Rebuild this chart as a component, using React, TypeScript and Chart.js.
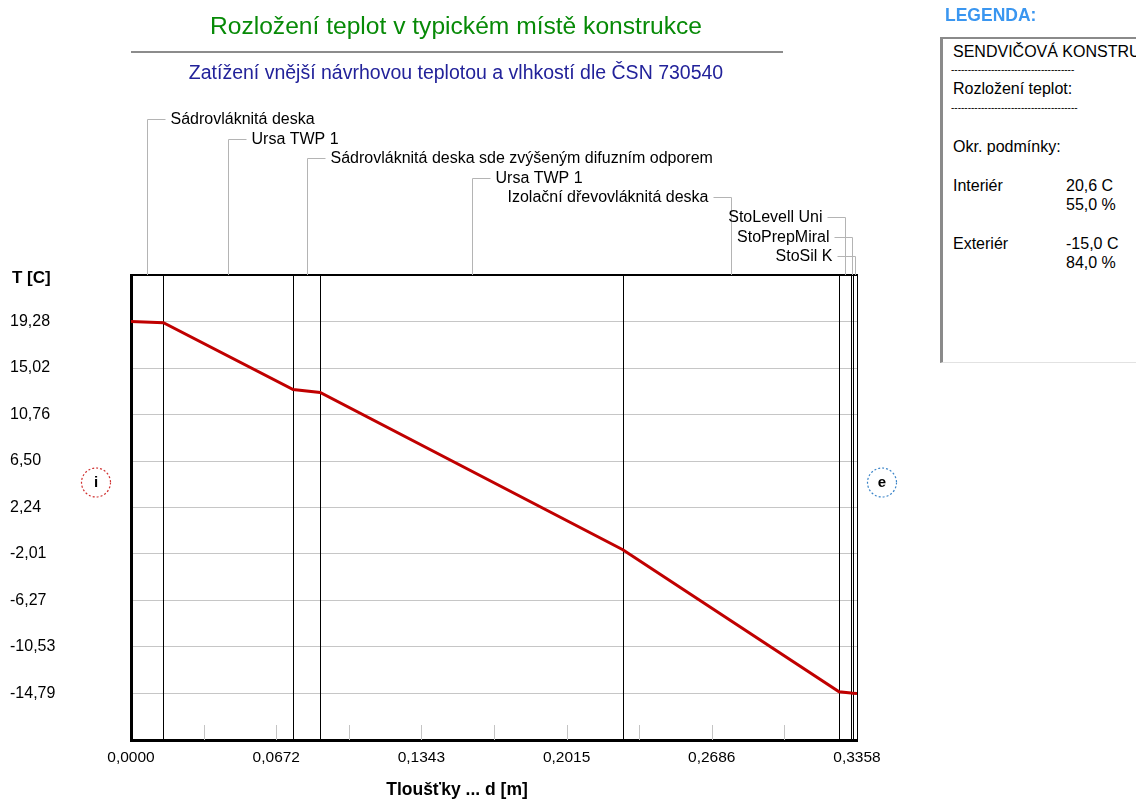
import React, { useEffect, useRef } from "react";
import { Chart, registerables } from "chart.js";

Chart.register(...registerables);

// ---------- data ----------
const layerNames = [
  "Sádrovláknitá deska",
  "Ursa TWP 1",
  "Sádrovláknitá deska sde zvýšeným difuzním odporem",
  "Ursa TWP 1",
  "Izolační dřevovláknitá deska",
  "StoLevell Uni",
  "StoPrepMiral",
  "StoSil K",
];
const layerThickness = [0.015, 0.06, 0.0125, 0.14, 0.1, 0.0055, 0.0008, 0.002];
// temperature at each layer interface (interior surface ... exterior surface)
const boundaryTemps = [19.28, 19.17, 13.05, 12.78, -1.62, -14.63, -14.75, -14.76, -14.79];

const yTickValues = [19.28, 15.02, 10.76, 6.5, 2.24, -2.01, -6.27, -10.53, -14.79];
const yTickLabels = ["19,28", "15,02", "10,76", "6,50", "2,24", "-2,01", "-6,27", "-10,53", "-14,79"];
const yMin = -19.05;
const yMax = 23.54;

const xTickValues = [0, 0.0672, 0.1343, 0.2015, 0.2686, 0.3358];
const xTickLabels = ["0,0000", "0,0672", "0,1343", "0,2015", "0,2686", "0,3358"];
const xMinorTicks = [0.0336, 0.0672, 0.1007, 0.1343, 0.1679, 0.2015, 0.2351, 0.2686, 0.3022];
const xMax = 0.3358;

const chartTitle = "Rozložení teplot v typickém místě konstrukce";
const chartSubtitle = "Zatížení vnější návrhovou teplotou a vlhkostí dle ČSN 730540";
const yAxisTitle = "T [C]";
const xAxisTitle = "Tloušťky ... d [m]";

const legendHeading = "LEGENDA:";
const legendConstruction = "SENDVIČOVÁ KONSTRUKCE";
const legendSection = "Rozložení teplot:";
const legendConditions = "Okr. podmínky:";
const conditionNames = ["Interiér", "Exteriér"];
const conditionTemps = ["20,6 C", "-15,0 C"];
const conditionHumidity = ["55,0 %", "84,0 %"];

// ---------- derived ----------
const boundaries: number[] = [0];
layerThickness.forEach((t) => boundaries.push(boundaries[boundaries.length - 1] + t));
const profilePoints = boundaries.map((x, i) => ({ x, y: boundaryTemps[i] }));

const FONT = "'Liberation Sans', Arial, sans-serif";

const layerPlugin = {
  id: "layerPlugin",
  beforeDatasetsDraw(chart: any) {
    const { ctx, chartArea: ca, scales } = chart;
    const x = scales.x;
    ctx.save();
    // small ticks inside bottom of plot
    ctx.strokeStyle = "#c4c4c4";
    ctx.lineWidth = 1;
    xMinorTicks.forEach((v) => {
      const px = Math.round(x.getPixelForValue(v)) + 0.5;
      ctx.beginPath();
      ctx.moveTo(px, ca.bottom - 15);
      ctx.lineTo(px, ca.bottom);
      ctx.stroke();
    });
    // layer interfaces
    ctx.strokeStyle = "#000";
    ctx.lineWidth = 1;
    boundaries.slice(1).forEach((b) => {
      const px = Math.round(x.getPixelForValue(b)) + 0.5;
      ctx.beginPath();
      ctx.moveTo(px, ca.top);
      ctx.lineTo(px, ca.bottom);
      ctx.stroke();
    });
    // top border
    ctx.lineWidth = 2;
    ctx.beginPath();
    ctx.moveTo(ca.left, ca.top);
    ctx.lineTo(ca.right + 1, ca.top);
    ctx.stroke();
    ctx.restore();
  },
  afterDraw(chart: any) {
    const { ctx, chartArea: ca, scales } = chart;
    const x = scales.x;
    ctx.save();
    ctx.font = `16px ${FONT}`;
    ctx.textBaseline = "middle";
    layerNames.forEach((name, i) => {
      const center = boundaries[i] + layerThickness[i] / 2;
      const vx = Math.round(x.getPixelForValue(center)) + 0.5;
      const ly = Math.round(119 + i * 19.6) + 0.5;
      const w = ctx.measureText(name).width;
      const toRight = vx + 23 + w <= ca.right;
      ctx.strokeStyle = "#b4b4b4";
      ctx.lineWidth = 1;
      ctx.beginPath();
      ctx.moveTo(vx, ca.top);
      ctx.lineTo(vx, ly);
      ctx.lineTo(toRight ? vx + 18 : vx - 18, ly);
      ctx.stroke();
      ctx.fillStyle = "#000";
      ctx.textAlign = toRight ? "left" : "right";
      ctx.fillText(name, toRight ? vx + 23 : vx - 23, ly);
    });
    // interior / exterior markers
    const cy = (ca.top + ca.bottom) / 2 - 25;
    const marks = [
      { cx: ca.left - 35, color: "#d03030", t: "i" },
      { cx: ca.right + 25, color: "#3a84c8", t: "e" },
    ];
    marks.forEach((m) => {
      ctx.beginPath();
      ctx.setLineDash([2, 2]);
      ctx.strokeStyle = m.color;
      ctx.lineWidth = 1.2;
      ctx.arc(m.cx, cy, 14.5, 0, Math.PI * 2);
      ctx.stroke();
      ctx.setLineDash([]);
      ctx.fillStyle = "#000";
      ctx.font = `bold 15px ${FONT}`;
      ctx.textAlign = "center";
      ctx.textBaseline = "middle";
      ctx.fillText(m.t, m.cx, cy);
    });
    ctx.restore();
  },
};

function Txt(props: {
  x: number;
  y: number;
  size: number;
  bold?: boolean;
  color?: string;
  center?: boolean;
  children: React.ReactNode;
}) {
  const { x, y, size, bold, color, center, children } = props;
  return (
    <div
      style={{
        position: "absolute",
        left: x,
        top: y - 0.5 * size,
        fontSize: size,
        lineHeight: 1,
        fontWeight: bold ? "bold" : "normal",
        color: color || "#000",
        whiteSpace: "pre",
        transform: center ? "translateX(-50%)" : undefined,
      }}
    >
      {children}
    </div>
  );
}

export default function App() {
  const ref = useRef<HTMLCanvasElement>(null);

  useEffect(() => {
    const chart = new Chart(ref.current as HTMLCanvasElement, {
      type: "line",
      data: {
        datasets: [
          {
            data: profilePoints,
            borderColor: "#c00000",
            borderWidth: 3,
            pointRadius: 0,
            tension: 0,
            fill: false,
          },
        ],
      },
      options: {
        responsive: false,
        maintainAspectRatio: false,
        animation: false,
        events: [],
        layout: { padding: { left: 10, top: 275, right: 279, bottom: 0 } },
        plugins: {
          legend: { display: false },
          title: { display: false },
          tooltip: { enabled: false },
        },
        scales: {
          x: {
            type: "linear",
            min: 0,
            max: xMax,
            afterBuildTicks: (s: any) => {
              s.ticks = xTickValues.map((v) => ({ value: v }));
            },
            afterFit: (s: any) => {
              s.height = 60;
              s.paddingLeft = 0;
              s.paddingRight = 0;
            },
            ticks: {
              callback: (_v: any, i: number) => xTickLabels[i],
              padding: 8,
              color: "#000",
              font: { family: FONT, size: 15.5 },
              maxRotation: 0,
              autoSkip: false,
            },
            grid: { display: false, drawTicks: false },
            border: { display: true, color: "#000", width: 3 },
          },
          y: {
            type: "linear",
            min: yMin,
            max: yMax,
            afterBuildTicks: (s: any) => {
              s.ticks = yTickValues.map((v) => ({ value: v }));
            },
            afterFit: (s: any) => {
              s.width = 121;
              s.paddingTop = 0;
              s.paddingBottom = 0;
            },
            ticks: {
              callback: (_v: any, i: number) => yTickLabels[i],
              crossAlign: "far",
              padding: 0,
              color: "#000",
              font: { family: FONT, size: 16 },
              autoSkip: false,
            },
            grid: { color: "#c6c6c6", lineWidth: 1, drawTicks: false },
            border: { display: true, color: "#000", width: 3 },
          },
        },
      },
      plugins: [layerPlugin],
    } as any);
    return () => chart.destroy();
  }, []);

  return (
    <div
      style={{
        position: "fixed",
        left: 0,
        top: 0,
        width: 1136,
        height: 800,
        overflow: "hidden",
        background: "#fff",
        fontFamily: FONT,
      }}
    >
      <canvas ref={ref} width={1136} height={800} style={{ position: "absolute", left: 0, top: 0 }} />
      <Txt x={456} y={26} size={24.6} color="#078a07" center>
        {chartTitle}
      </Txt>
      <div style={{ position: "absolute", left: 131, top: 51, width: 652, height: 2, background: "#8c8c8c" }} />
      <Txt x={456} y={73} size={19.5} color="#22229a" center>
        {chartSubtitle}
      </Txt>
      <Txt x={12} y={277} size={17} bold>
        {yAxisTitle}
      </Txt>
      <Txt x={457} y={790} size={17.5} bold center>
        {xAxisTitle}
      </Txt>

      <Txt x={945} y={16} size={17.5} bold color="#3a96f0">
        {legendHeading}
      </Txt>
      <div
        style={{
          position: "absolute",
          left: 940,
          top: 37,
          width: 240,
          height: 323,
          borderLeft: "3px solid #8a8a8a",
          borderTop: "2px solid #8a8a8a",
          borderBottom: "1px solid #e2e2e2",
          background: "#fff",
        }}
      />
      <Txt x={953} y={52} size={16}>
        {legendConstruction}
      </Txt>
      <Txt x={951} y={70} size={10}>
        {"-".repeat(37)}
      </Txt>
      <Txt x={953} y={89} size={16}>
        {legendSection}
      </Txt>
      <Txt x={951} y={108} size={10}>
        {"-".repeat(38)}
      </Txt>
      <Txt x={953} y={147} size={16}>
        {legendConditions}
      </Txt>
      {conditionNames.map((n, i) => (
        <React.Fragment key={n}>
          <Txt x={953} y={186 + i * 58} size={16}>
            {n}
          </Txt>
          <Txt x={1066} y={186 + i * 58} size={16}>
            {conditionTemps[i]}
          </Txt>
          <Txt x={1066} y={205 + i * 58} size={16}>
            {conditionHumidity[i]}
          </Txt>
        </React.Fragment>
      ))}
    </div>
  );
}
